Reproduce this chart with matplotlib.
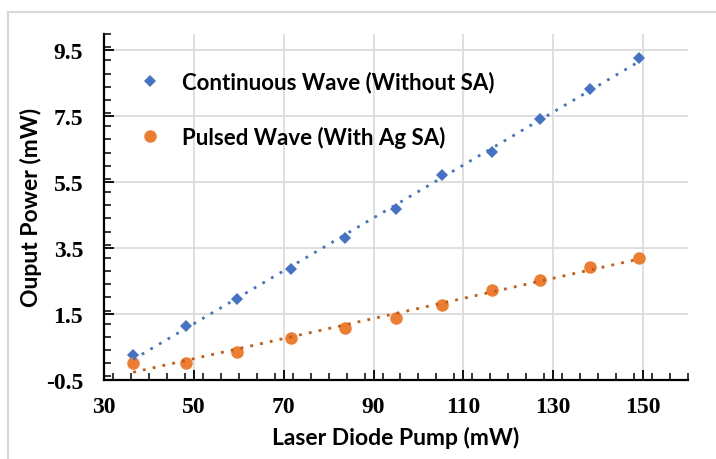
import numpy as np
import matplotlib
matplotlib.use("Agg")
import matplotlib.pyplot as plt
from matplotlib.patches import Rectangle
from matplotlib.ticker import MultipleLocator

# data
pump_mw = [36.5, 48.3, 59.5, 71.6, 83.7, 95.0, 105.2, 116.3, 127.1, 138.2, 149.2]
cw_power = [0.25, 1.12, 1.95, 2.85, 3.80, 4.69, 5.71, 6.42, 7.43, 8.34, 9.26]
pulsed_power = [0.0, 0.02, 0.33, 0.76, 1.07, 1.37, 1.77, 2.23, 2.54, 2.91, 3.20]

x_ticks = [30, 50, 70, 90, 110, 130, 150]
y_ticks = [-0.5, 1.5, 3.5, 5.5, 7.5, 9.5]

BLUE = "#4472C4"
ORANGE = "#ED7D31"
ORANGE_DARK = "#C55A11"

W, H = 716, 460
fig = plt.figure(figsize=(W / 100, H / 100), dpi=100)
ax = fig.add_axes([104 / W, 1 - 380.7 / H, (688 - 104) / W, (380.7 - 35) / H])

# outer chart border
fig.patches.append(Rectangle((8 / W, -0.05), 1.2, 1 - 13 / H + 0.05, transform=fig.transFigure,
                             fill=False, edgecolor="#D9D9D9", linewidth=1.6))

x = np.array(pump_mw)
for y, face, line, marker, ms, label in [
    (cw_power, BLUE, BLUE, "D", 6.5, "Continuous Wave (Without SA)"),
    (pulsed_power, ORANGE, ORANGE_DARK, "o", 9, "Pulsed Wave (With Ag SA)"),
]:
    ax.plot(x, y, linestyle="none", marker=marker, markersize=ms, color=face,
            markeredgewidth=0, label=label, zorder=3)
    k, b = np.polyfit(x, y, 1)
    ax.plot(x, k * x + b, linestyle=(0, (1, 2.6)), linewidth=2, color=line, zorder=4)

ax.set_xlim(30, 160)
ax.set_ylim(-0.5, 10.0)
ax.set_xticks(x_ticks)
ax.set_yticks(y_ticks)
ax.set_yticklabels([str(v) for v in y_ticks])
ax.xaxis.set_minor_locator(MultipleLocator(4))
ax.yaxis.set_minor_locator(MultipleLocator(0.4))
ax.grid(True, which="major", color="#D9D9D9", linewidth=1.2)
ax.set_axisbelow(True)

for s in ("top", "right"):
    ax.spines[s].set_visible(False)
for s in ("left", "bottom"):
    ax.spines[s].set_linewidth(1.6)

ax.tick_params(which="major", direction="in", length=7, width=1.3)
ax.tick_params(which="minor", direction="in", length=5, width=1.1)
ax.tick_params(axis="x", which="major", pad=11.5)
ax.tick_params(axis="y", which="major", pad=15)
for lab in ax.get_xticklabels() + ax.get_yticklabels():
    lab.set_family("Liberation Serif")
    lab.set_fontweight("bold")
    lab.set_fontsize(17)

label_font = dict(family="Lato", fontweight="bold", fontsize=16.5)
ax.set_xlabel("Laser Diode Pump (mW)", labelpad=7, **label_font)
ax.set_ylabel("Ouput Power (mW)", labelpad=3, **label_font)

leg = ax.legend(loc="upper left", bbox_to_anchor=(113 / W, 1 - 52 / H), bbox_transform=fig.transFigure,
                frameon=False, handletextpad=0.7, labelspacing=1.5, handlelength=1.5,
                prop=dict(family="Lato", weight="bold", size=16))

fig.savefig("out.png", dpi=100)
